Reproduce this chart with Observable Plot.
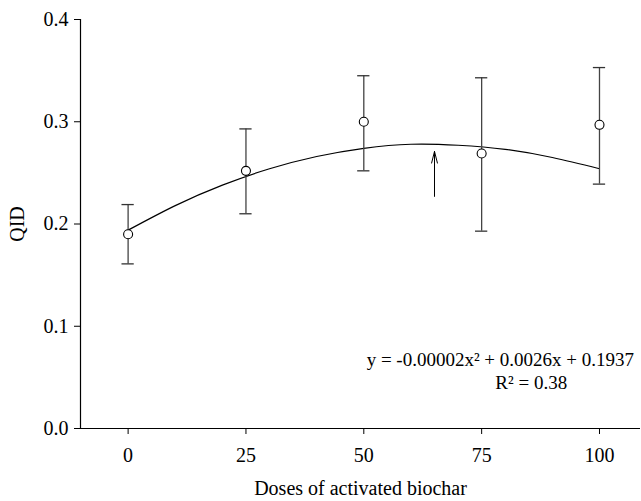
<!DOCTYPE html>
<html>
<head>
<meta charset="utf-8">
<script src="https://cdn.jsdelivr.net/npm/d3@7"></script>
<script src="https://cdn.jsdelivr.net/npm/@observablehq/plot@0.6"></script>
<style>
  html, body { margin: 0; padding: 0; background: #fff; overflow: hidden; }
  #chart svg { display: block; }
  #chart svg text { font-family: "Liberation Serif", "Times New Roman", serif; }
</style>
</head>
<body>
<div id="chart"></div>
<script>
// Data
const doses = [0, 25, 50, 75, 100];
const qidMean = [0.190, 0.252, 0.300, 0.269, 0.297];
const qidLow = [0.161, 0.210, 0.252, 0.193, 0.239];
const qidHigh = [0.219, 0.293, 0.345, 0.343, 0.353];

// Fitted curve
const curveX = [0, 10, 20, 30, 40, 50, 60, 70, 80, 90, 100];
const curveY = [0.194, 0.218, 0.238, 0.254, 0.266, 0.274, 0.278, 0.277, 0.273, 0.265, 0.254];

// Arrow marking the curve maximum
const arrowX = [65];
const arrowYFrom = [0.227];
const arrowYTo = [0.271];

// Tick labels
const xTicks = [0, 25, 50, 75, 100];
const yTicks = [0.0, 0.1, 0.2, 0.3, 0.4];

// Annotation text
const eqLines = ["y = -0.00002x² + 0.0026x + 0.1937", "R² = 0.38"];
const eqX = [50.6, 77.9];
const eqY = [0.0668, 0.0443];

const points = doses.map((d, i) => ({dose: d, mean: qidMean[i], lo: qidLow[i], hi: qidHigh[i]}));
const curve = curveX.map((x, i) => ({x, y: curveY[i]}));
const arrows = arrowX.map((x, i) => ({x, y1: arrowYFrom[i], y2: arrowYTo[i]}));
const eq = eqLines.map((t, i) => ({t, x: eqX[i], y: eqY[i]}));

const capHalf = 1.3; // in dose units (~6px)
const font = "Liberation Serif, Times New Roman, serif";

const chart = Plot.plot({
  width: 641,
  height: 501,
  marginTop: 19,
  marginRight: 1,
  marginBottom: 73,
  marginLeft: 80,
  style: {fontFamily: font, fontSize: "20px", color: "#000", background: "#fff"},
  x: {domain: [-10.1, 108.7]},
  y: {domain: [0, 0.4]},
  marks: [
    Plot.axisX({ticks: xTicks, tickSize: 6, tickPadding: 13, fontSize: 20, fontFamily: font, label: "Doses of activated biochar", labelAnchor: "center", labelArrow: "none", labelOffset: 66}),
    Plot.axisY({ticks: yTicks, tickFormat: d3.format(".1f"), tickSize: 6, tickPadding: 6, fontSize: 20, fontFamily: font, label: "QID", labelAnchor: "center", labelArrow: "none", labelOffset: 71}),
    Plot.ruleY([0], {stroke: "#000", strokeWidth: 1.2}),
    Plot.ruleX([-10.1], {y1: 0, y2: 0.4, stroke: "#000", strokeWidth: 1.2}),
    Plot.line(curve, {x: "x", y: "y", curve: "natural", stroke: "#000", strokeWidth: 1.2}),
    Plot.ruleX(points, {x: "dose", y1: "lo", y2: "hi", stroke: "#444", strokeWidth: 1.3}),
    Plot.ruleY(points, {y: "hi", x1: d => d.dose - capHalf, x2: d => d.dose + capHalf, stroke: "#333", strokeWidth: 1.3}),
    Plot.ruleY(points, {y: "lo", x1: d => d.dose - capHalf, x2: d => d.dose + capHalf, stroke: "#333", strokeWidth: 1.3}),
    Plot.dot(points, {x: "dose", y: "mean", r: 4.5, fill: "#fff", stroke: "#000", strokeWidth: 1.1}),
    Plot.arrow(arrows, {x: "x", y1: "y1", y2: "y2", stroke: "#000", strokeWidth: 1, headLength: 18, headAngle: 28}),
    Plot.text(eq, {x: "x", y: "y", text: "t", textAnchor: "start", fontSize: 19, fontFamily: font, fill: "#000"})
  ]
});
document.getElementById("chart").appendChild(chart);
</script>
</body>
</html>
